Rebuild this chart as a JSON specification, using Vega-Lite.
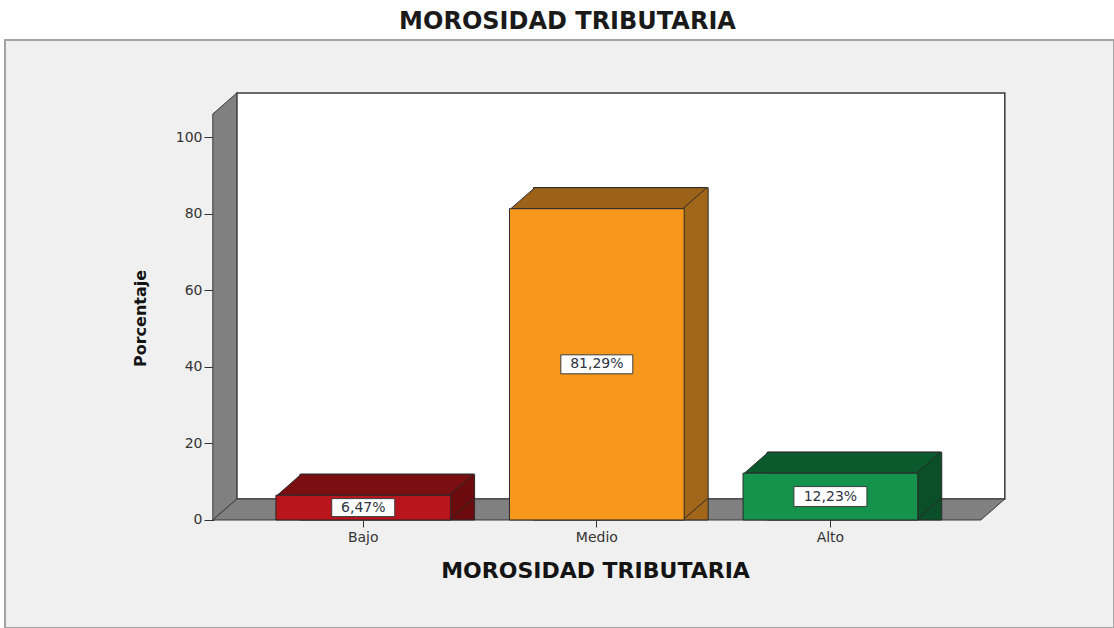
{
  "$schema": "https://vega.github.io/schema/vega-lite/v6.json",
  "width": 1109,
  "height": 588,
  "autosize": "none",
  "padding": {"left": 5, "top": 40, "right": 0, "bottom": 0},
  "background": "#ffffff",
  "config": {
    "view": {"fill": "#f0f0f0", "stroke": "#a3a3a3", "strokeWidth": 2}
  },
  "title": {
    "text": "MOROSIDAD TRIBUTARIA",
    "font": "DejaVu Sans",
    "fontSize": 24,
    "fontWeight": "bold",
    "color": "#1a1a1a",
    "anchor": "middle",
    "frame": "group",
    "baseline": "alphabetic",
    "offset": 11,
    "dx": 8,
    "dy": 24
  },
  "data": {
    "values": [
      {"cat": "Bajo", "pct": 6.47, "label": "6,47%"},
      {"cat": "Medio", "pct": 81.29, "label": "81,29%"},
      {"cat": "Alto", "pct": 12.23, "label": "12,23%"}
    ]
  },
  "encoding": {
    "x": {
      "field": "cat",
      "type": "nominal",
      "sort": ["Bajo", "Medio", "Alto"],
      "scale": {"paddingInner": 0.252, "paddingOuter": 1.03634, "align": 0.5799},
      "axis": {
        "title": "MOROSIDAD TRIBUTARIA",
        "offset": -108,
        "domain": false,
        "labelAngle": 0,
        "labelFont": "DejaVu Sans",
        "labelFontSize": 14,
        "labelColor": "#333333",
        "labelPadding": 3,
        "tickSize": 7,
        "tickColor": "#333333",
        "titleFont": "DejaVu Sans",
        "titleFontSize": 22,
        "titleFontWeight": "bold",
        "titleColor": "#141414",
        "titleX": 590,
        "titleY": 57,
        "titleAlign": "center",
        "titleBaseline": "alphabetic"
      }
    },
    "y": {
      "type": "quantitative",
      "scale": {"domain": [-28.2, 125.33], "nice": false, "zero": false},
      "axis": {
        "title": "Porcentaje",
        "values": [0, 20, 40, 60, 80, 100],
        "offset": -209,
        "domain": false,
        "grid": false,
        "labelFont": "DejaVu Sans",
        "labelFontSize": 14,
        "labelColor": "#333333",
        "labelPadding": 2,
        "tickSize": 10,
        "tickColor": "#333333",
        "titleFont": "DejaVu Sans",
        "titleFontSize": 16,
        "titleFontWeight": "bold",
        "titleColor": "#141414",
        "titleX": -66,
        "titleY": 278,
        "titleAngle": -90,
        "titleAlign": "center",
        "titleBaseline": "bottom"
      }
    }
  },
  "resolve": {"scale": {"y": "independent"}},
  "layer": [
    {
      "resolve": {"scale": {"color": "independent"}},
      "layer": [
        {
          "transform": [{"filter": "datum.cat === 'Medio'"}],
          "mark": {"type": "point", "filled": true, "opacity": 1, "size": 4, "shape": "M-360,-21 L408,-21 L408,-427 L-360,-427 Z", "fill": "#ffffff", "stroke": "#3a3a3a", "strokeWidth": 1.5},
          "encoding": {"y": {"datum": 0}}
        },
        {
          "transform": [{"filter": "datum.cat === 'Medio'"}],
          "mark": {"type": "point", "filled": true, "opacity": 1, "size": 4, "shape": "M-384,0 L-384,-406 L-360,-427 L-360,-21 Z", "fill": "#808080", "stroke": "#3a3a3a", "strokeWidth": 1},
          "encoding": {"y": {"datum": 0}}
        },
        {
          "transform": [{"filter": "datum.cat === 'Medio'"}],
          "mark": {"type": "point", "filled": true, "opacity": 1, "size": 4, "shape": "M-384,0 L384,0 L408,-21 L-360,-21 Z", "fill": "#808080", "stroke": "#3a3a3a", "strokeWidth": 1},
          "encoding": {"y": {"datum": 0}}
        },
        {
          "mark": {"type": "bar", "xOffset": 24, "yOffset": -21, "stroke": "#2a2a2a", "strokeWidth": 1},
          "encoding": {
            "y": {"field": "pct"},
            "y2": {"datum": 0},
            "color": {"field": "cat", "type": "nominal", "scale": {"domain": ["Bajo", "Medio", "Alto"], "range": ["#6c0b0d", "#a2661b", "#0a4f28"]}, "legend": null}
          }
        },
        {
          "mark": {"type": "point", "filled": true, "opacity": 1, "size": 4, "shape": "M86,0 L86,-22 L110,-22 L110,-21 Z", "strokeWidth": 0},
          "encoding": {
            "y": {"datum": 0},
            "color": {"field": "cat", "type": "nominal", "scale": {"domain": ["Bajo", "Medio", "Alto"], "range": ["#6c0b0d", "#a2661b", "#0a4f28"]}, "legend": null}
          }
        },
        {
          "mark": {"type": "point", "filled": false, "opacity": 1, "size": 4, "shape": "M86,0 L110,-21", "stroke": "#2a2a2a", "strokeWidth": 1},
          "encoding": {"y": {"datum": 0}}
        },
        {
          "mark": {"type": "point", "filled": true, "opacity": 1, "size": 4, "shape": "M-86,0 L86,0 L110,-21 L-62,-21 Z", "stroke": "#2a2a2a", "strokeWidth": 1},
          "encoding": {
            "y": {"field": "pct"},
            "color": {"field": "cat", "type": "nominal", "scale": {"domain": ["Bajo", "Medio", "Alto"], "range": ["#7a0e10", "#9b6218", "#0b5a2d"]}, "legend": null}
          }
        },
        {
          "mark": {"type": "bar", "stroke": "#2a2a2a", "strokeWidth": 1},
          "encoding": {
            "y": {"field": "pct"},
            "y2": {"datum": 0},
            "color": {"field": "cat", "type": "nominal", "scale": {"domain": ["Bajo", "Medio", "Alto"], "range": ["#b8161c", "#f7981d", "#15924b"]}, "legend": null}
          }
        }
      ]
    },
    {
      "encoding": {
        "y": {"field": "pct", "type": "quantitative", "scale": {"domain": [-56.4, 250.66], "nice": false, "zero": false}, "axis": null}
      },
      "layer": [
        {
          "mark": {"type": "point", "filled": true, "opacity": 1, "size": 4, "fill": "#ffffff", "stroke": "#3a3a3a", "strokeWidth": 1},
          "encoding": {
            "shape": {"field": "cat", "type": "nominal", "scale": {"domain": ["Bajo", "Medio", "Alto"], "range": ["M-31.5,-9 L31.5,-9 L31.5,9 L-31.5,9 Z", "M-36,-9.5 L36,-9.5 L36,9.5 L-36,9.5 Z", "M-36.5,-10 L36.5,-10 L36.5,10 L-36.5,10 Z"]}, "legend": null}
          }
        },
        {
          "mark": {"type": "text", "font": "DejaVu Sans", "fontSize": 14, "color": "#2e3440", "baseline": "middle", "align": "center"},
          "encoding": {
            "text": {"field": "label"}
          }
        }
      ]
    }
  ]
}
